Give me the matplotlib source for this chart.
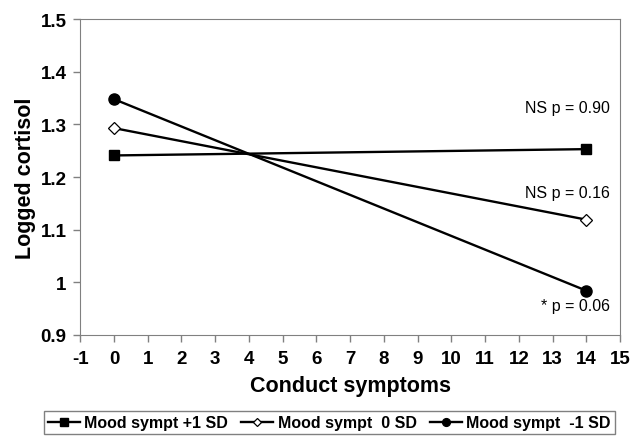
import matplotlib.pyplot as plt

plt.rcParams['font.family'] = ['Liberation Sans', 'DejaVu Sans']
plt.rcParams['axes.unicode_minus'] = False

# Data
x_vals = [0, 14]
plus1_sd = [1.241, 1.253]
zero_sd = [1.293, 1.119]
minus1_sd = [1.348, 0.984]
labels = ["Mood sympt +1 SD", "Mood sympt  0 SD", "Mood sympt  -1 SD"]
p_texts = ["NS p = 0.90", "NS p = 0.16", "* p = 0.06"]
p_y = [1.333, 1.171, 0.955]

fig = plt.figure(figsize=(6.32, 4.39), dpi=100)
ax = fig.add_axes([0.127, 0.235, 0.854, 0.719])

ax.plot(x_vals, plus1_sd, color='black', lw=1.7, marker='s', ms=7.5, label=labels[0])
ax.plot(x_vals, zero_sd, color='black', lw=1.7, marker='D', ms=6.5, mfc='white', mew=0.9, label=labels[1])
ax.plot(x_vals, minus1_sd, color='black', lw=1.7, marker='o', ms=8, label=labels[2])

for txt, yy in zip(p_texts, p_y):
    ax.text(14.7, yy, txt, ha='right', va='center', fontsize=11.5)

ax.set_xlim(-1, 15)
ax.set_ylim(0.9, 1.5)
ax.set_xticks(range(-1, 16))
ax.set_yticks([0.9, 1.0, 1.1, 1.2, 1.3, 1.4, 1.5])
ax.set_yticklabels(['0.9', '1', '1.1', '1.2', '1.3', '1.4', '1.5'])
for sp in ax.spines.values():
    sp.set_color('#808080')
ax.tick_params(colors='#808080', labelcolor='black', labelsize=13.5, length=5, width=1)
ax.tick_params(axis='x', pad=6)
ax.tick_params(axis='y', pad=5)
for lab in ax.get_xticklabels() + ax.get_yticklabels():
    lab.set_fontweight('bold')

ax.set_xlabel("Conduct symptoms", fontsize=15.5, fontweight='bold', labelpad=6)
ax.set_ylabel("Logged cortisol", fontsize=15.5, fontweight='bold', labelpad=3)

leg = fig.legend(loc='center', bbox_to_anchor=(0.521, 0.035), ncol=3, frameon=True,
                 fancybox=False, edgecolor='#606060', handlelength=2.0, handletextpad=0.3,
                 columnspacing=0.8, borderpad=0.25, markerscale=0.7,
                 prop={'weight': 'bold', 'size': 11.5})
leg.get_frame().set_linewidth(1)

fig.savefig("out.png", dpi=100)
